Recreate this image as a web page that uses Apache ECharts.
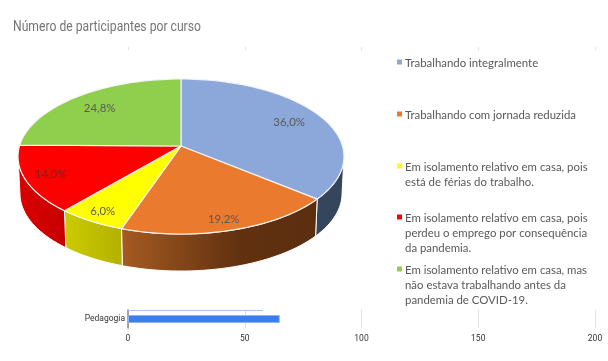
<!DOCTYPE html>
<html><head><meta charset="utf-8">
<style>html,body{margin:0;padding:0;background:#fff}#c{width:608px;height:361px}</style>
<script src="https://cdn.jsdelivr.net/npm/echarts@6/dist/echarts.min.js"></script>
</head><body><div id="c"></div>
<script>
const titleText = 'Número de participantes por curso';
const categories = ['Trabalhando integralmente','Trabalhando com jornada reduzida','Em isolamento relativo em casa, pois\nestá de férias do trabalho.','Em isolamento relativo em casa, pois\nperdeu o emprego por consequência\nda pandemia.','Em isolamento relativo em casa, mas\nnão estava trabalhando antes da\npandemia de COVID-19.'];
const shares = [36.0, 19.2, 6.0, 14.0, 24.8];
const shareLabels = ['36,0%','19,2%','6,0%','14,0%','24,8%'];
const barCategory = ['Pedagogia'];
const barValues = [65];
const hiddenBarValues = [57.8];
const xTicks = [0, 200, 50];

const colors = ['#8CA7DA','#EA7B2E','#FFFF00','#FF0000','#90CE4E'];
const wallFill = [
  '#35465C',
  new echarts.graphic.LinearGradient(0,0,1,0,[{offset:0,color:'#A65B22'},{offset:.6,color:'#61310F'},{offset:1,color:'#5C2E10'}]),
  new echarts.graphic.LinearGradient(0,0,1,0,[{offset:0,color:'#CCCC00'},{offset:1,color:'#B3B000'}]),
  new echarts.graphic.LinearGradient(0,0,1,0,[{offset:0,color:'#D80000'},{offset:1,color:'#C80000'}]),
  '#6F9D3C'
];
const legendFirstLineY = [62,114,166,217,269];
const total = shares.reduce((a,b)=>a+b,0);
const CX=181, CY=146, RX=161.5, RY=76.1, K=0.1355, DEPTH=37, SHRINK=0.988;
const VIS_A=97.8, VIS_B=262.2;
function proj(deg, f){
  const t=deg*Math.PI/180, u=Math.sin(t)*f, v=-Math.cos(t)*f, w=1-K*v;
  return [CX+RX*u/w, CY+RY*v/w];
}
function arc(a,b){ const p=[]; const n=Math.max(2,Math.ceil(Math.abs(b-a)/2)); for(let i=0;i<=n;i++) p.push(proj(a+(b-a)*i/n,1)); return p; }
function renderSlice(params, api){
  const i=params.dataIndex;
  let start=0; for(let j=0;j<i;j++) start+=shares[j];
  const a0=start/total*360, a1=a0+api.value(0)/total*360, mid=(a0+a1)/2;
  const kids=[];
  const wa=Math.max(a0,VIS_A), wb=Math.min(a1,VIS_B);
  if(wb>wa){
    const top=arc(wa,wb);
    const bottom=top.map(p=>[CX+(p[0]-CX)*SHRINK,p[1]+DEPTH]).reverse();
    kids.push({type:'polygon',shape:{points:top.concat(bottom)},style:{fill:wallFill[i],stroke:'#fff',lineWidth:1},z2:1});
  }
  kids.push({type:'polygon',shape:{points:[[CX,CY]].concat(arc(a0,a1))},style:{fill:colors[i],stroke:'#F4F4F4',lineWidth:1.2,lineJoin:'round'},z2:2});
  const v=-Math.cos(mid*Math.PI/180);
  const lp=proj(mid,0.81+0.07*v);
  kids.push({type:'text',x:lp[0]-1,y:lp[1]+1,style:{text:shareLabels[i],fill:i===3?'#7A2020':'#595959',font:'11.4px Lato',align:'center',verticalAlign:'middle'},z2:3});
  return {type:'group',children:kids};
}
const graphic=[{type:'text',x:13,y:20,scaleX:0.81,style:{text:titleText,fill:'#757575',font:'15px Roboto'}}];
categories.forEach((c,i)=>{
  graphic.push({type:'rect',x:397,y:legendFirstLineY[i]-2.5,shape:{width:5,height:5},style:{fill:colors[i]}});
  graphic.push({type:'text',x:405,y:legendFirstLineY[i]-6,style:{text:c,fill:'#595959',font:'11.4px Lato',lineHeight:14.8}});
});
const axisFont={fontFamily:'Roboto',fontSize:8.5,color:'#333'};
const chart=echarts.init(document.getElementById('c'),null,{renderer:'canvas'});
chart.setOption({
  animation:false,
  backgroundColor:'#fff',
  graphic,
  grid:[
    {left:128,right:13,top:310,height:18},
    {left:128,right:13,top:310,height:1},
    {left:128,right:13,top:47,height:3}
  ],
  xAxis:[
    {gridIndex:0,type:'value',min:xTicks[0],max:xTicks[1],interval:xTicks[2],axisLine:{show:false},axisTick:{show:false},
     splitLine:{lineStyle:{color:'#E3E3E3',width:1}},axisLabel:{margin:6,...axisFont}},
    {gridIndex:1,type:'value',min:xTicks[0],max:xTicks[1],show:false},
    {gridIndex:2,type:'value',min:xTicks[0],max:xTicks[1],interval:xTicks[2],axisLine:{show:false},axisTick:{show:false},
     splitLine:{lineStyle:{color:'#E3E3E3',width:1}},axisLabel:{show:false}}
  ],
  yAxis:[
    {gridIndex:0,type:'category',data:barCategory,axisLine:{lineStyle:{color:'#888',width:1.5}},axisTick:{show:false},axisLabel:{margin:3,...axisFont}},
    {gridIndex:1,type:'category',data:barCategory,show:false},
    {gridIndex:2,type:'category',data:barCategory,show:false}
  ],
  series:[
    {type:'custom',coordinateSystem:'none',renderItem:renderSlice,data:shares.map(v=>[v]),silent:true,z:2},
    {type:'bar',xAxisIndex:0,yAxisIndex:0,data:barValues,barWidth:8,itemStyle:{color:'#3B7CEE',borderColor:'#8FB4F0',borderWidth:1},z:3},
    {type:'bar',xAxisIndex:1,yAxisIndex:1,data:hiddenBarValues,barWidth:1,itemStyle:{color:'#A9C4F0'},z:3}
  ]
});
</script></body></html>
